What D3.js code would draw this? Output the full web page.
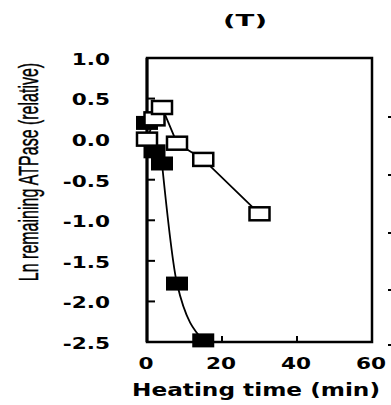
<html>
<head>
<script src="https://d3js.org/d3.v7.min.js"></script>
<style>
body { margin: 0; background: #fff; }
text { fill: #000; }
</style>
</head>
<body>
<svg id="chart" width="391" height="405"></svg>
<script>
// heating time (min) and ln of remaining ATPase
const openTime = [0, 2, 4, 8, 15, 30];
const openValue = [0.0, 0.25, 0.39, -0.05, -0.25, -0.92];
const filledTime = [0, 2, 4, 8, 15];
const filledValue = [0.2, -0.15, -0.3, -1.78, -2.48];
const xTicks = [0, 20, 40, 60];
const yTicks = [1.0, 0.5, 0.0, -0.5, -1.0, -1.5, -2.0, -2.5];

const svg = d3.select('svg#chart');
const stretch = 1.35; // the whole figure looks widened

const x = d3.scaleLinear().domain([0, 60]).range([147, 372]);
const y = d3.scaleLinear().domain([-2.5, 1.0]).range([342, 58]);

function label(px, py, str, size, weight, anchor) {
    return svg.append('text')
        .attr('transform', `translate(${px},${py}) scale(${stretch},1)`)
        .attr('text-anchor', anchor || 'middle')
        .attr('dominant-baseline', 'central')
        .style('font-family', '"DejaVu Sans", sans-serif')
        .style('font-weight', weight)
        .style('font-size', size + 'px')
        .text(str);
}

// frame
svg.append('rect')
    .attr('x', x(0)).attr('y', y(1.0))
    .attr('width', x(60) - x(0)).attr('height', y(-2.5) - y(1.0))
    .attr('fill', 'none').attr('stroke', '#000').attr('stroke-width', 2.5);
svg.append('line')
    .attr('x1', x(0)).attr('x2', x(0)).attr('y1', y(1.0)).attr('y2', y(-2.5))
    .attr('stroke', '#000').attr('stroke-width', 3);

// inner ticks
yTicks.forEach(t => {
    svg.append('line')
        .attr('x1', x(0)).attr('x2', x(0) + 8)
        .attr('y1', y(t)).attr('y2', y(t))
        .attr('stroke', '#000').attr('stroke-width', 2);
    label(x(0) - 37, y(t) + 1, t.toFixed(1), 16, 'bold', 'end');
});
xTicks.forEach(t => {
    if (t > 0 && t < 60) {
        svg.append('line')
            .attr('x1', x(t)).attr('x2', x(t))
            .attr('y1', y(-2.5)).attr('y2', y(-2.5) - 6)
            .attr('stroke', '#000').attr('stroke-width', 2);
    }
    label(x(t) - 1, 363, String(t), 16, 'bold');
});

// filled series: fitted curve
const curve = d3.line()
    .x(d => x(d[0])).y(d => y(d[1]))
    .curve(d3.curveMonotoneX);
const filled = filledTime.map((t, i) => [t, filledValue[i]]);
svg.append('path')
    .datum(filled.slice(2))
    .attr('d', curve)
    .attr('fill', 'none').attr('stroke', '#000').attr('stroke-width', 1.8);

svg.selectAll('rect.filled')
    .data(filled).enter().append('rect')
    .attr('class', 'filled')
    .attr('x', d => x(d[0]) - 11).attr('y', d => y(d[1]) - 7)
    .attr('width', 22).attr('height', 14)
    .attr('fill', '#000');

// open series
const open = openTime.map((t, i) => [t, openValue[i]]);
svg.append('path')
    .datum(open)
    .attr('d', d3.line().x(d => x(d[0])).y(d => y(d[1])))
    .attr('fill', 'none').attr('stroke', '#000').attr('stroke-width', 1.8);
svg.selectAll('rect.open')
    .data(open).enter().append('rect')
    .attr('class', 'open')
    .attr('x', d => x(d[0]) - 10).attr('y', d => y(d[1]) - 6.5)
    .attr('width', 20).attr('height', 13)
    .attr('fill', '#fff').attr('stroke', '#000').attr('stroke-width', 2.5);

// titles
svg.append('text')
    .attr('x', 245).attr('y', 20)
    .attr('text-anchor', 'middle').attr('dominant-baseline', 'central')
    .attr('textLength', 44).attr('lengthAdjust', 'spacingAndGlyphs')
    .style('font-family', '"DejaVu Sans", sans-serif')
    .style('font-weight', 'bold').style('font-size', '16px')
    .text('(T)');

svg.append('text')
    .attr('x', 256).attr('y', 390)
    .attr('text-anchor', 'middle').attr('dominant-baseline', 'central')
    .attr('textLength', 248).attr('lengthAdjust', 'spacingAndGlyphs')
    .style('font-family', '"DejaVu Sans", "Noto Sans CJK JP", sans-serif')
    .style('font-weight', 'bold').style('font-size', '17px')
    .text('Heating time (min)');

svg.append('text')
    .attr('transform', 'translate(29,172) scale(1.7,1) rotate(-90)')
    .attr('text-anchor', 'middle').attr('dominant-baseline', 'central')
    .style('font-family', '"Liberation Sans", sans-serif')
    .style('font-size', '16px')
    .style('stroke', '#000').style('stroke-width', 0.25)
    .text('Ln remaining ATPase (relative)');

// tick marks of the neighbouring panel, cut at the right edge
[117, 175, 233, 290, 345].forEach(py => {
    svg.append('rect').attr('x', 388).attr('y', py - 1).attr('width', 3).attr('height', 2).attr('fill', '#000');
});
</script>
</body>
</html>
